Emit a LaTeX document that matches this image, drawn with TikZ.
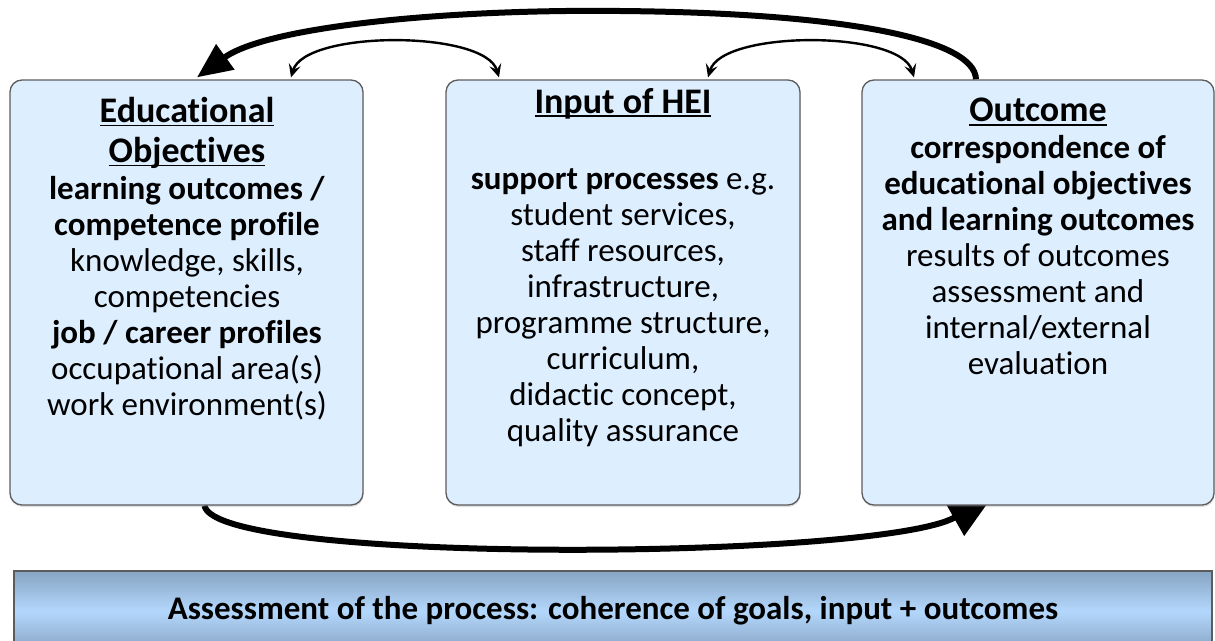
\documentclass[tikz,border=0pt]{standalone}
\usepackage{fontspec}
\setmainfont{Carlito}[Ligatures=NoCommon]
\newcommand\ulinetext[1]{\setbox0\hbox{#1}\rlap{\rule[-4pt]{\wd0}{1.8pt}}\box0}
\newcommand\titlesize{\fontsize{36}{36}\selectfont}
\usetikzlibrary{arrows.meta,shadows}
\pgfdeclarelayer{bg}
\pgfsetlayers{bg,main}
\definecolor{boxfill}{HTML}{DDEEFF}
\definecolor{boxline}{HTML}{5C5C5C}
\definecolor{bartop}{HTML}{87A4C3}
\definecolor{barmid}{HTML}{B3D7FC}
\begin{document}
\begin{tikzpicture}[x=1pt,y=-1pt,
  panel/.style={draw=boxline, line width=1.3pt, fill=boxfill, rounded corners=12pt,
    minimum width=#1, minimum height=425pt, inner sep=0pt,
    drop shadow={opacity=0.25, shadow xshift=0.5pt, shadow yshift=-2pt}},
  boxtext/.style={align=center, inner sep=0pt, anchor=north,
    font=\fontsize{33}{36}\selectfont},
  bigarrow/.style={line width=6pt, -{Triangle[length=#1]}},
  thinarrow/.style={line width=2.4pt, {Stealth[length=13pt,width=12pt,inset=5pt]}-{Stealth[length=13pt,width=12pt,inset=5pt]}},
  barbox/.style={draw=boxline, line width=1.3pt, shading=axis, top color=bartop,
    bottom color=bartop, middle color=barmid, minimum width=1198pt,
    minimum height=80pt, inner sep=0pt, font=\fontsize{33}{36}\selectfont\bfseries}
]
\useasboundingbox (0,0) rectangle (1215,640);
\clip (0,0) rectangle (1215,640);

% panels
\node[panel=353pt] (eo) at (186.5,292.5) {};
\node[panel=354pt] (inp) at (623,292.5) {};
\node[panel=352pt] (out) at (1038,292.5) {};

% texts
\node[boxtext] (eotext) at (187,97) {%
  {\titlesize\textbf{\ulinetext{Educational}}}\\[4pt]
  {\titlesize\textbf{\ulinetext{Objectives}}}\\[1pt]
  \textbf{learning outcomes /}\\
  \textbf{competence profile}\\
  knowledge, skills,\\
  competencies\\
  \textbf{job / career profiles}\\
  occupational area(s)\\
  work environment(s)};
\node[boxtext] (inptext) at (623,88) {%
  {\titlesize\textbf{\ulinetext{Input of HEI}}}\\[40pt]
  \textbf{support processes} e.g.\\
  student services,\\
  staff resources,\\
  infrastructure,\\
  programme structure,\\
  curriculum,\\
  didactic concept,\\
  quality assurance};
\node[boxtext] (outtext) at (1038,98) {%
  {\titlesize\textbf{\ulinetext{Outcome}}}\\[1pt]
  \textbf{correspondence of}\\
  \textbf{educational objectives}\\
  \textbf{and learning outcomes}\\
  results of outcomes\\
  assessment and\\
  internal/external\\
  evaluation};

% bottom bar
\node[barbox] (assess) at (613,611) {Assessment of the process: coherence of goals, input + outcomes};

% connectors (behind the panels)
\begin{pgfonlayer}{bg}
\draw[bigarrow={35pt,width=30pt}] ([xshift=-62pt]out.north)
  .. controls (975,40) and (850,13) .. (620,11)
  .. controls (450,9) and (268,26) .. ([xshift=10.5pt,yshift=2pt]eo.north);
\draw[thinarrow] ([xshift=104.5pt,yshift=2pt]eo.north)
  .. controls (305,30) and (485,30) .. ([xshift=-124pt,yshift=2pt]inp.north);
\draw[thinarrow] ([xshift=85pt,yshift=2pt]inp.north)
  .. controls (722,30) and (900,30) .. ([xshift=-124pt,yshift=2pt]out.north);
\draw[bigarrow={45pt,width=40pt}] ([xshift=18pt]eo.south)
  .. controls (215,565) and (880,560) .. ([xshift=-45pt,yshift=10pt]out.south);
\end{pgfonlayer}
\end{tikzpicture}
\end{document}
